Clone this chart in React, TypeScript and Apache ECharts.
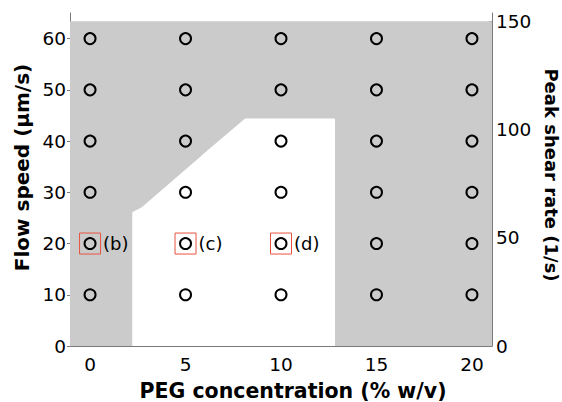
import { useEffect, useRef } from 'react';
import * as echarts from 'echarts';

// ---- data ----
const pegConcentrations = [0, 5, 10, 15, 20];
const flowSpeeds = [10, 20, 30, 40, 50, 60];
const xTickValues = [0, 5, 10, 15, 20];
const yTickValues = [0, 10, 20, 30, 40, 50, 60];
const shearTickValues = [0, 50, 100, 150];
const minorTickValues = [1, 2, 3, 4];
const highlightedPoints = [[0, 20], [5, 20], [10, 20]];
const highlightLabels = ['(b)', '(c)', '(d)'];
const grayRegion = [[-1.05, 0], [21.05, 0], [21.05, 63.4], [-1.05, 63.4]];
const whiteRegion = [
  [2.21, 0], [2.21, 26.1], [2.71, 27.1], [5.76, 36.9], [5.93, 37.5],
  [8.12, 44.4], [12.83, 44.4], [12.83, 0],
];

const X_MIN = -1.05;
const X_MAX = 21.05;
const Y_MAX = 65;
const SHEAR_MAX = 153.8;

const AXIS_COLOR = '#7a7a7a';
const TICK_FONT = { color: '#000', fontSize: 18.5, fontFamily: '"DejaVu Sans", sans-serif' };
const NAME_FONT = { color: '#000', fontWeight: 'bold' as const, fontFamily: '"DejaVu Sans", sans-serif' };

export default function App() {
  const ref = useRef<HTMLDivElement>(null);
  useEffect(() => {
    if (!ref.current) return;
    const chart = echarts.init(ref.current, null, { renderer: 'svg' });
    const regions = [
      { points: grayRegion, color: '#cbcbcb' },
      { points: whiteRegion, color: '#ffffff' },
    ];
    const gridPoints: number[][] = [];
    pegConcentrations.forEach((x) => flowSpeeds.forEach((y) => gridPoints.push([x, y])));

    chart.setOption({
      animation: false,
      backgroundColor: '#ffffff',
      grid: { left: 70, right: 70, top: 13, bottom: 56, containLabel: false, outerBoundsMode: 'none' },
      xAxis: [
        {
          type: 'value', min: X_MIN, max: X_MAX, position: 'bottom',
          name: 'PEG concentration (% w/v)', nameLocation: 'middle', nameGap: 34,
          nameTextStyle: { ...NAME_FONT, fontSize: 20.5, padding: [0, 0, 0, 24] },
          axisLine: { show: true, onZero: false, lineStyle: { color: AXIS_COLOR, width: 1 } },
          axisTick: { show: true, inside: true, length: 4, customValues: xTickValues, lineStyle: { color: AXIS_COLOR } },
          axisLabel: { ...TICK_FONT, margin: 9, customValues: xTickValues },
          splitLine: { show: false },
        },
        {
          type: 'value', min: 0, max: 5, position: 'bottom',
          axisLine: { show: false },
          axisTick: { show: true, inside: true, length: 4, customValues: minorTickValues, lineStyle: { color: AXIS_COLOR } },
          axisLabel: { show: false },
          splitLine: { show: false },
        },
      ],
      yAxis: [
        {
          type: 'value', min: 0, max: Y_MAX, position: 'left',
          name: 'Flow speed (µm/s)', nameLocation: 'middle', nameGap: 37, nameRotate: 90,
          nameTextStyle: { ...NAME_FONT, fontSize: 20, padding: [0, 0, 0, 24] },
          axisLine: { show: true, onZero: false, lineStyle: { color: AXIS_COLOR, width: 1 } },
          axisTick: { show: true, inside: false, length: 3, customValues: yTickValues, lineStyle: { color: AXIS_COLOR } },
          axisLabel: { ...TICK_FONT, margin: 4, customValues: yTickValues },
          splitLine: { show: false },
        },
        {
          type: 'value', min: 0, max: SHEAR_MAX, position: 'right',
          name: 'Peak shear rate (1/s)', nameLocation: 'middle', nameGap: 45, nameRotate: -90,
          nameTextStyle: { ...NAME_FONT, fontSize: 18, padding: [0, 9, 0, 0] },
          axisLine: { show: true, onZero: false, lineStyle: { color: AXIS_COLOR, width: 1 } },
          axisTick: { show: true, inside: true, length: 3, customValues: shearTickValues, lineStyle: { color: AXIS_COLOR } },
          axisLabel: { ...TICK_FONT, margin: 4, customValues: shearTickValues },
          splitLine: { show: false },
        },
      ],
      series: [
        {
          type: 'custom', xAxisIndex: 0, yAxisIndex: 0, silent: true, clip: true, z: 1,
          data: regions.map((r) => r.points[0]),
          renderItem: (params: any, api: any) => {
            const region = regions[params.dataIndex];
            return {
              type: 'polygon',
              shape: { points: region.points.map((p) => api.coord(p)) },
              style: { fill: region.color, stroke: 'none' },
            };
          },
        },
        {
          type: 'scatter', xAxisIndex: 0, yAxisIndex: 0, z: 3,
          data: gridPoints,
          symbol: 'circle', symbolSize: 11,
          itemStyle: { color: 'rgba(0,0,0,0)', borderColor: '#000', borderWidth: 2, opacity: 1 },
        },
        {
          type: 'scatter', xAxisIndex: 0, yAxisIndex: 0, z: 4,
          data: highlightedPoints,
          symbol: 'rect', symbolSize: 21,
          itemStyle: { color: 'rgba(0,0,0,0)', borderColor: '#e8533f', borderWidth: 1, opacity: 1 },
          label: {
            show: true, position: 'right', distance: 2,
            formatter: (p: any) => highlightLabels[p.dataIndex],
            color: '#000', fontSize: 18, fontFamily: '"DejaVu Sans", sans-serif',
          },
        },
      ],
    });
    return () => chart.dispose();
  }, []);
  return <div ref={ref} style={{ position: 'fixed', left: 0, top: 0, width: 562, height: 402 }} />;
}
